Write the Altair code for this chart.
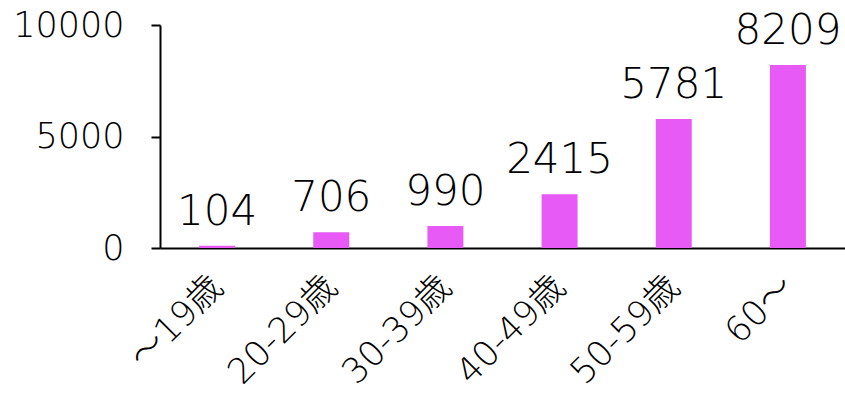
import altair as alt
import pandas as pd

categories = ["〜19歳", "20-29歳", "30-39歳", "40-49歳", "50-59歳", "60〜"]
values = [104, 706, 990, 2415, 5781, 8209]

df = pd.DataFrame({"cat": categories, "val": values})

FONT = "DejaVu Sans, Noto Sans CJK JP"
WEIGHT = 200

x = alt.X("cat:N", sort=categories, title=None,
          scale=alt.Scale(paddingInner=0.685, paddingOuter=0.3425),
          axis=alt.Axis(labelAngle=-45, labelAlign="right", labelBaseline="middle",
                        labelFontSize=35, labelFont=FONT, labelFontWeight=WEIGHT,
                        labelColor="black",
                        labelPadding=33, ticks=False, domain=True,
                        domainColor="black", domainWidth=2))
y = alt.Y("val:Q", title=None,
          scale=alt.Scale(domain=[0, 10000], nice=False),
          axis=alt.Axis(values=[0, 5000, 10000], format="d", grid=False, labelFontSize=35,
                        labelFont=FONT, labelFontWeight=WEIGHT, labelColor="black",
                        labelPadding=27,
                        tickSize=9, tickWidth=2, tickColor="black",
                        domainColor="black", domainWidth=2))

bars = alt.Chart(df).mark_bar(color="#E85AF5").encode(x=x, y=y)
labels = alt.Chart(df).mark_text(font=FONT, fontWeight=WEIGHT, fontSize=42, dy=-21,
                                 baseline="alphabetic",
                                 color="black").encode(x=alt.X("cat:N", sort=categories),
                                                       y="val:Q", text="val:Q")

chart = (bars + labels).properties(
    width=685, height=223,
    autosize=alt.AutoSizeParams(type="none"),
    padding={"left": 160, "top": 25, "right": 0, "bottom": 153},
).configure_view(stroke=None)

chart.save("out.html", embed_options={"renderer": "svg", "actions": False})
